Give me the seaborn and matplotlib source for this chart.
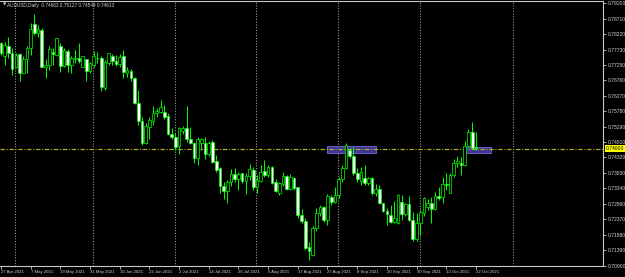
import numpy as np
import pandas as pd
import matplotlib
matplotlib.use("Agg")
import matplotlib.pyplot as plt
import matplotlib.transforms as mtransforms
from matplotlib.patches import Rectangle
import seaborn as sns

# ---------------- data (AUDUSD daily) ----------------
opens = [0.7793, 0.7751, 0.7784, 0.7761, 0.7719, 0.7758, 0.7700, 0.7742, 0.7777, 0.7854,
         0.7824, 0.7835, 0.7719, 0.7724, 0.7766, 0.7756, 0.7784, 0.7722, 0.7769, 0.7724,
         0.7742, 0.7745, 0.7719, 0.7742, 0.7706, 0.7724, 0.7747, 0.7747, 0.7650, 0.7729,
         0.7751, 0.7737, 0.7726, 0.7751, 0.7698, 0.7706, 0.7682, 0.7603, 0.7548, 0.7479,
         0.7529, 0.7548, 0.7571, 0.7577, 0.7576, 0.7564, 0.7506, 0.7496, 0.7468, 0.7516,
         0.7524, 0.7489, 0.7479, 0.7429, 0.7477, 0.7477, 0.7443, 0.7482, 0.7421, 0.7398,
         0.7342, 0.7327, 0.7356, 0.7379, 0.7363, 0.7382, 0.7359, 0.7373, 0.7392, 0.7340,
         0.7359, 0.7390, 0.7377, 0.7401, 0.7356, 0.7319, 0.7348, 0.7373, 0.7331, 0.7366,
         0.7338, 0.7250, 0.7232, 0.7150, 0.7124, 0.7208, 0.7256, 0.7274, 0.7234, 0.7306,
         0.7292, 0.7313, 0.7363, 0.7398, 0.7456, 0.7437, 0.7384, 0.7359, 0.7366, 0.7352,
         0.7366, 0.7319, 0.7331, 0.7287, 0.7264, 0.7250, 0.7229, 0.7224, 0.7292, 0.7253,
         0.7285, 0.7236, 0.7173, 0.7224, 0.7255, 0.7277, 0.7289, 0.7268, 0.7310, 0.7306,
         0.7348, 0.7321, 0.7377, 0.7413, 0.7416, 0.7408, 0.7468, 0.7513, 0.74663]
highs = [0.7798, 0.7798, 0.7812, 0.7777, 0.7761, 0.7763, 0.7751, 0.7784, 0.7856, 0.7885,
         0.7851, 0.7840, 0.7742, 0.7784, 0.7777, 0.7808, 0.7793, 0.7777, 0.7774, 0.7751,
         0.7772, 0.7793, 0.7753, 0.7743, 0.7735, 0.7769, 0.7766, 0.7751, 0.7740, 0.7763,
         0.7759, 0.7756, 0.7759, 0.7772, 0.7719, 0.7710, 0.7687, 0.7645, 0.7559, 0.7540,
         0.7561, 0.7595, 0.7587, 0.7614, 0.7598, 0.7571, 0.7524, 0.7508, 0.7529, 0.7531,
         0.7595, 0.7529, 0.7482, 0.7496, 0.7492, 0.7498, 0.7484, 0.7487, 0.7440, 0.7401,
         0.7356, 0.7361, 0.7395, 0.7398, 0.7387, 0.7384, 0.7382, 0.7411, 0.7401, 0.7377,
         0.7408, 0.7424, 0.7408, 0.7405, 0.7363, 0.7356, 0.7387, 0.7377, 0.7380, 0.7369,
         0.7340, 0.7268, 0.7240, 0.7166, 0.7215, 0.7271, 0.7282, 0.7279, 0.7317, 0.7313,
         0.7340, 0.7371, 0.7408, 0.7477, 0.7461, 0.7466, 0.7398, 0.7403, 0.7408, 0.7371,
         0.7371, 0.7348, 0.7345, 0.7289, 0.7271, 0.7282, 0.7296, 0.7317, 0.7313, 0.7289,
         0.7310, 0.7261, 0.7255, 0.7266, 0.7306, 0.7300, 0.7306, 0.7324, 0.7338, 0.7371,
         0.7382, 0.7382, 0.7426, 0.7437, 0.7435, 0.7485, 0.7521, 0.7545, 0.75127]
lows = [0.7756, 0.7724, 0.7745, 0.7693, 0.7714, 0.7672, 0.7698, 0.7698, 0.7756, 0.7819,
        0.7814, 0.7717, 0.7682, 0.7708, 0.7724, 0.7751, 0.7703, 0.7719, 0.7703, 0.7700,
        0.7729, 0.7729, 0.7717, 0.7672, 0.7698, 0.7719, 0.7729, 0.7642, 0.7645, 0.7724,
        0.7724, 0.7721, 0.7719, 0.7682, 0.7687, 0.7672, 0.7600, 0.7535, 0.7471, 0.7475,
        0.7489, 0.7535, 0.7561, 0.7574, 0.7553, 0.7503, 0.7489, 0.7456, 0.7443, 0.7506,
        0.7482, 0.7475, 0.7416, 0.7408, 0.7456, 0.7426, 0.7437, 0.7414, 0.7387, 0.7321,
        0.7300, 0.7289, 0.7342, 0.7356, 0.7329, 0.7350, 0.7317, 0.7361, 0.7329, 0.7319,
        0.7356, 0.7371, 0.7371, 0.7348, 0.7324, 0.7313, 0.7342, 0.7329, 0.7329, 0.7329,
        0.7240, 0.7226, 0.7140, 0.7108, 0.7121, 0.7201, 0.7247, 0.7229, 0.7219, 0.7282,
        0.7287, 0.7303, 0.7356, 0.7395, 0.7429, 0.7377, 0.7356, 0.7345, 0.7345, 0.7345,
        0.7313, 0.7310, 0.7285, 0.7261, 0.7219, 0.7224, 0.7224, 0.7222, 0.7234, 0.7247,
        0.7232, 0.7169, 0.7169, 0.7187, 0.7247, 0.7266, 0.7226, 0.7266, 0.7298, 0.7289,
        0.7329, 0.7319, 0.7371, 0.7403, 0.7377, 0.7405, 0.7464, 0.7458, 0.74544]
closes = [0.7761, 0.7787, 0.7761, 0.7711, 0.7756, 0.7700, 0.7742, 0.7777, 0.7837, 0.7824,
          0.7837, 0.7719, 0.7724, 0.7774, 0.7758, 0.7808, 0.7722, 0.7772, 0.7724, 0.7747,
          0.7745, 0.7738, 0.7751, 0.7706, 0.7729, 0.7751, 0.7745, 0.7654, 0.7735, 0.7761,
          0.7738, 0.7726, 0.7748, 0.7701, 0.7708, 0.7682, 0.7605, 0.7548, 0.7477, 0.7532,
          0.7550, 0.7571, 0.7579, 0.7590, 0.7561, 0.7506, 0.7496, 0.7466, 0.7524, 0.7524,
          0.7490, 0.7479, 0.7429, 0.7489, 0.7490, 0.7443, 0.7479, 0.7419, 0.7392, 0.7342,
          0.7327, 0.7356, 0.7379, 0.7364, 0.7379, 0.7359, 0.7373, 0.7395, 0.7340, 0.7361,
          0.7387, 0.7377, 0.7401, 0.7352, 0.7327, 0.7350, 0.7373, 0.7331, 0.7371, 0.7334,
          0.7250, 0.7232, 0.7145, 0.7138, 0.7208, 0.7256, 0.7274, 0.7234, 0.7310, 0.7292,
          0.7313, 0.7363, 0.7398, 0.7471, 0.7437, 0.7384, 0.7363, 0.7385, 0.7350, 0.7366,
          0.7319, 0.7331, 0.7289, 0.7264, 0.7253, 0.7229, 0.7240, 0.7313, 0.7253, 0.7285,
          0.7234, 0.7173, 0.7224, 0.7261, 0.7303, 0.7289, 0.7268, 0.7310, 0.7303, 0.7348,
          0.7345, 0.7377, 0.7413, 0.7422, 0.7408, 0.7468, 0.7513, 0.7461, 0.74613]

date_labels = ["27 Apr 2021", "7 May 2021", "19 May 2021", "31 May 2021", "10 Jun 2021",
               "22 Jun 2021", "2 Jul 2021", "14 Jul 2021", "26 Jul 2021", "5 Aug 2021",
               "17 Aug 2021", "27 Aug 2021", "8 Sep 2021", "20 Sep 2021", "30 Sep 2021",
               "12 Oct 2021", "22 Oct 2021"]
date_label_bars = [0, 8, 16, 24, 32, 40, 48, 56, 64, 72, 80, 88, 96, 104, 112, 120, 128]

price_ticks = [0.79200, 0.78710, 0.78220, 0.77730, 0.77250, 0.76760, 0.76270, 0.75780,
               0.75290, 0.74810, 0.74320, 0.73830, 0.73340, 0.72860, 0.72370, 0.71880,
               0.71390, 0.70900]
current_price = 0.74600
grid_bars = [3.8, 24.8, 46.9, 68.7, 90.8, 112.9, 138.0]
# support zones: (start bar, end bar, low price, high price)
zones = [(87.8, 101.1, 0.74469, 0.74691), (125.3, 132.0, 0.74450, 0.74659)]
header = "AUDUSD,Daily  0.74663 0.75127 0.74544 0.74613"

# ---------------- styling ----------------
sns.set_theme(style="dark", rc={"axes.facecolor": "black", "figure.facecolor": "black",
                                "savefig.facecolor": "black"})
plt.rcParams["font.family"] = ["Liberation Sans", "DejaVu Sans"]

LIME = "#00ff00"
FG = "#d2d2d2"

df = pd.DataFrame({"open": opens, "high": highs, "low": lows, "close": closes})
df["bar"] = np.arange(len(df))
df["bull"] = df["close"] >= df["open"]
df["bottom"] = df[["open", "close"]].min(axis=1)
df["height"] = (df["close"] - df["open"]).abs().clip(lower=0.00006)

fig = plt.figure(figsize=(6.25, 2.77), dpi=100)
ax = fig.add_axes([0, 11 / 277, 603 / 625, 265 / 277])
ax.set_facecolor("black")

# grid lines (dotted)
for g in grid_bars:
    ax.axvline(g, color="#a0a0a0", lw=0.75, ls=(0, (1, 1.6)), zorder=1)

# zones
for x0, x1, y0, y1 in zones:
    ax.add_patch(Rectangle((x0, y0), x1 - x0, y1 - y0, facecolor="#3e3690",
                           edgecolor="#6a60c8", lw=0.7, zorder=2))

# current price line
ax.axhline(current_price, color="#b9b428", lw=0.8, ls=(0, (4, 1.5, 1, 1.5)), zorder=3)

# candles
ax.vlines(df["bar"], df["low"], df["high"], color=LIME, lw=0.7, zorder=4)
ax.bar(df["bar"], df["height"], bottom=df["bottom"], width=0.72,
       color=np.where(df["bull"], "black", "white"), edgecolor=LIME, linewidth=0.5,
       zorder=5)

ax.set_xlim(-0.27, 162.26)
ax.set_ylim(0.70891, 0.79263)

# axes frame
for side in ["top", "right", "bottom"]:
    ax.spines[side].set_visible(True)
    ax.spines[side].set_color("#c8c8c8")
    ax.spines[side].set_linewidth(0.8)
ax.spines["left"].set_visible(False)

ax.yaxis.tick_right()
ax.set_yticks(price_ticks)
ax.set_yticklabels([f"{p:.5f}" for p in price_ticks])
ax.tick_params(axis="y", colors="#c8c8c8", labelcolor=FG, labelsize=3.6, length=2,
               width=0.6, pad=1.2, direction="out", right=True, left=False)
ax.set_xticks(date_label_bars)
ax.set_xticklabels(date_labels)
ax.tick_params(axis="x", colors="#c8c8c8", labelcolor=FG, labelsize=3.1, length=2,
               width=0.6, pad=1.0, direction="out", bottom=True)
for lbl in ax.get_xticklabels():
    lbl.set_horizontalalignment("left")
ax.grid(False)

# current price tag
trans = mtransforms.blended_transform_factory(ax.transAxes, ax.transData)
ax.text(1.005, current_price, f"{current_price:.5f}", transform=trans, fontsize=3.6,
        color="black", va="center", ha="left", clip_on=False, zorder=10,
        bbox=dict(boxstyle="square,pad=0.15", facecolor="#ffff00", edgecolor="none"))

# header
fig.text(2.5 / 625, 1 - 5 / 277, "▼", fontsize=3.0, color=FG, va="center", ha="left",
         family=["DejaVu Sans"])
fig.text(7 / 625, 1 - 5 / 277, header, fontsize=3.4, color=FG, va="center", ha="left")

fig.savefig("out.png", dpi=100, facecolor="black")
